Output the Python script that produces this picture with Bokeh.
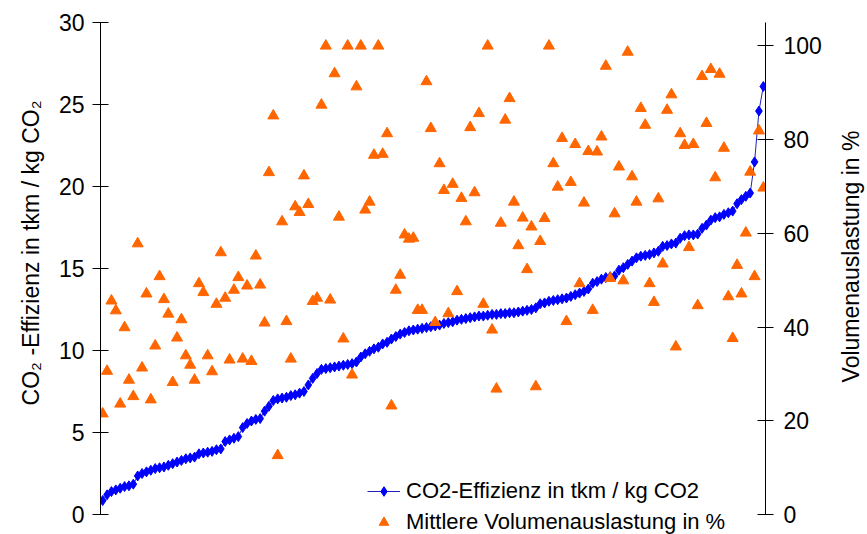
import math
from bokeh.plotting import figure
from bokeh.models import Range1d, LinearAxis, FixedTicker, Legend, LegendItem
from bokeh.layouts import row
from bokeh.core.properties import value
from bokeh.embed import file_html
from bokeh.resources import INLINE

# CO2 efficiency (tkm / kg CO2), sorted ascending, one value per vehicle
efficiency = [
    0.85, 1.2, 1.4, 1.5, 1.6, 1.7, 1.75, 1.85, 2.35, 2.5,
    2.6, 2.7, 2.8, 2.85, 2.9, 3.0, 3.1, 3.2, 3.3, 3.4,
    3.45, 3.5, 3.7, 3.75, 3.8, 3.85, 3.95, 4.0, 4.45, 4.55,
    4.65, 4.75, 5.3, 5.55, 5.7, 5.8, 5.85, 6.3, 6.6, 6.95,
    7.05, 7.1, 7.15, 7.25, 7.3, 7.4, 7.5, 7.9, 8.3, 8.6,
    8.85, 8.9, 8.95, 9.0, 9.05, 9.1, 9.15, 9.2, 9.3, 9.6,
    9.8, 9.95, 10.1, 10.2, 10.4, 10.5, 10.7, 10.85, 11.0, 11.1,
    11.2, 11.25, 11.3, 11.35, 11.4, 11.45, 11.5, 11.55, 11.65, 11.7,
    11.75, 11.85, 11.9, 11.95, 12.0, 12.05, 12.1, 12.1, 12.15, 12.2,
    12.2, 12.25, 12.25, 12.3, 12.3, 12.35, 12.4, 12.45, 12.5, 12.6,
    12.85, 12.9, 13.0, 13.05, 13.1, 13.15, 13.2, 13.3, 13.4, 13.5,
    13.6, 13.75, 14.1, 14.2, 14.35, 14.45, 14.5, 14.55, 14.9, 15.05,
    15.25, 15.45, 15.65, 15.75, 15.8, 15.85, 15.95, 16.05, 16.35, 16.4,
    16.5, 16.55, 16.85, 17.0, 17.05, 17.05, 17.1, 17.45, 17.65, 17.95,
    18.1, 18.15, 18.3, 18.4, 18.5, 18.95, 19.2, 19.4, 19.6, 21.5,
    24.6, 26.1,
]

# Mean volume utilisation (%), same vehicles
utilization = [
    21.5, 30.6, 45.6, 43.5, 23.6, 39.9, 28.7, 25.2, 57.8, 31.3,
    47.1, 24.5, 36.0, 50.8, 45.9, 42.8, 28.2, 37.7, 41.6, 33.9,
    31.9, 28.7, 49.3, 47.4, 33.9, 30.5,
    44.9, 55.9, 46.2, 33.0, 47.9, 50.6, 33.2, 48.8, 32.7, 55.2,
    49.0, 40.9, 73.0, 85.1, 12.6, 62.5, 41.2, 33.2, 65.7, 64.5,
    72.3, 66.2, 45.5, 46.2,
    87.4, 100, 45.8, 94.1, 63.5, 37.5, 100, 29.8, 91.3, 100,
    65.0, 66.7, 76.7, 100, 76.9, 81.3, 23.2, 47.9, 51.1, 59.7,
    58.8, 59.0, 43.6, 43.6, 92.4,
    82.4, 41.0, 74.9, 69.2, 42.9, 70.5, 47.6, 67.5, 62.5, 82.6,
    68.7, 85.6, 44.9, 100, 39.4, 26.8, 62.2, 84.2, 88.8, 66.7,
    57.4, 63.3, 52.3, 61.4, 27.3,
    58.3, 63.2, 100, 74.9, 69.9, 80.3, 41.2, 70.9, 79.0, 49.3,
    66.5, 77.5, 43.6, 77.4, 80.6, 95.7, 50.4, 64.2, 74.2, 49.9,
    98.7, 72.1, 66.7, 86.7, 83.1,
    49.3, 45.3, 67.4, 53.5, 86.3, 89.6, 35.8, 81.3, 78.8, 57.0,
    79.0, 44.6, 93.5, 83.5, 95.0, 71.9, 94.0, 78.2, 46.5, 37.6,
    53.2, 47.1, 60.1, 73.1, 50.8, 81.9, 69.7,
]

left_ticks = [0, 5, 10, 15, 20, 25, 30]
right_ticks = [0, 20, 40, 60, 80, 100]
left_max = 30
right_max = 105

label_left = "\u00a0" * 8 + "CO\u2082 -Effizienz in tkm / kg CO\u2082"
label_right = "Volumenauslastung in %"
legend_eff = "CO2-Effizienz in tkm / kg CO2"
legend_util = "Mittlere Volumenauslastung in %"

FONT = "Liberation Sans"
n = len(efficiency)
idx = list(range(n))

# frame: top at 22 px, value 0 at 514 px, frame runs to the bottom (534 px)
top_px, zero_px, bottom_px = 22, 514, 534
ext = (bottom_px - zero_px) / (zero_px - top_px)

p = figure(width=837, height=534, output_backend="svg", toolbar_location=None,
           x_range=Range1d(-0.5, n - 0.5),
           y_range=Range1d(-left_max * ext, left_max),
           min_border_left=100, min_border_right=72, min_border_top=top_px,
           min_border_bottom=0)
p.extra_y_ranges = {"pct": Range1d(-right_max * ext, right_max)}
p.xaxis.visible = False
p.xgrid.visible = False
p.ygrid.visible = False
p.outline_line_color = None
p.background_fill_color = "white"
p.border_fill_color = "white"


def style_axis(ax, ticks, bounds, standoff):
    ax.ticker = FixedTicker(ticks=ticks)
    ax.bounds = bounds
    ax.axis_line_color = "black"
    ax.axis_line_width = 1
    ax.major_tick_line_color = "black"
    ax.major_tick_in = 8
    ax.major_tick_out = 8
    ax.minor_tick_line_color = None
    ax.major_label_text_font = FONT
    ax.major_label_text_font_size = "23px"
    ax.major_label_text_color = "black"
    ax.major_label_standoff = standoff


left = p.yaxis[0]
style_axis(left, left_ticks, (0, left_max), 8)
left.axis_label = label_left
left.axis_label_text_font = FONT
left.axis_label_text_font_size = "23px"
left.axis_label_text_font_style = "normal"
left.axis_label_text_color = "black"
left.axis_label_standoff = 12

right = LinearAxis(y_range_name="pct")
style_axis(right, right_ticks, (0, right_max), 10)
p.add_layout(right, "right")

line_r = p.line(idx, efficiency, line_color="#2020C0", line_width=1)
dia_r = p.scatter(idx, efficiency, marker="diamond", size=10,
                  fill_color="#0000FF", line_color="#0000FF")
tri_r = p.scatter(idx, utilization, marker="triangle", size=11,
                  fill_color="#FF6600", line_color="#FF6600",
                  y_range_name="pct")

legend = Legend(items=[LegendItem(label=legend_eff, renderers=[line_r, dia_r]),
                       LegendItem(label=legend_util, renderers=[tri_r])],
                location=(267, -3), margin=0, padding=0, spacing=0,
                glyph_width=33, glyph_height=24, label_height=31,
                label_standoff=6, border_line_color=None,
                background_fill_alpha=0,
                label_text_font=FONT, label_text_font_size="22px",
                label_text_color="black")
p.add_layout(legend)

# narrow strip carrying the right-hand axis title (reads bottom to top)
side = figure(width=30, height=534, output_backend="svg", toolbar_location=None,
              x_range=Range1d(0, 30), y_range=Range1d(534, 0),
              min_border_left=0, min_border_right=0, min_border_top=0,
              min_border_bottom=0)
side.xaxis.visible = False
side.yaxis.visible = False
side.xgrid.visible = False
side.ygrid.visible = False
side.outline_line_color = None
side.text(x=[13.5], y=[244], text=[label_right], angle=math.pi / 2,
          text_align="center", text_baseline="middle",
          text_font=value(FONT), text_font_size="23px", text_color="black")

layout = row(p, side)
open("out.html", "w").write(file_html(layout, INLINE))
